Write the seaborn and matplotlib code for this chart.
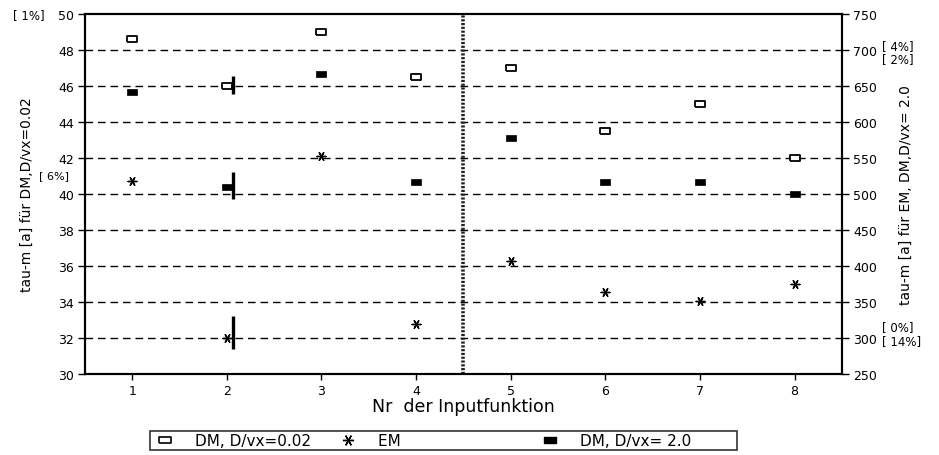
import numpy as np
import pandas as pd
import matplotlib
matplotlib.use("Agg")
import matplotlib.pyplot as plt
import seaborn as sns
from matplotlib.lines import Line2D

# ---- data -------------------------------------------------------------
inputs = [1, 2, 3, 4, 5, 6, 7, 8]
dm_002 = [48.6, 46.0, 49.0, 46.5, 47.0, 43.5, 45.0, 42.0]      # left axis
dm_20 = [642, 510, 667, 517, 578, 517, 517, 500]               # right axis
em = [518, 300, 553, 319, 407, 364, 351, 375]                  # right axis
bar_x = [2.06, 2.06, 2.06]
bar_lo = [639, 493, 285]
bar_hi = [664, 531, 330]
left_ticks = [30, 32, 34, 36, 38, 40, 42, 44, 46, 48, 50]
right_ticks = [250, 300, 350, 400, 450, 500, 550, 600, 650, 700, 750]
divider_x = 4.5
left_notes = ["[ 1%]", "[ 6%]"]
left_note_y = [50.0, 41.05]
right_notes = ["[ 4%]", "[ 2%]", "[ 0%]", "[ 14%]"]
right_note_y = [706, 688, 316, 297]
legend_labels = ["DM, D/vx=0.02", "EM", "DM, D/vx= 2.0"]

sns.set_theme(style="ticks")
plt.rcParams["font.family"] = ["DejaVu Sans"]
plt.rcParams["text.color"] = "black"
plt.rcParams["axes.labelcolor"] = "black"
plt.rcParams["xtick.color"] = "black"
plt.rcParams["ytick.color"] = "black"

fig = plt.figure(figsize=(9.39, 4.56), dpi=100)
ax = fig.add_axes([0.0905, 0.1776, 0.806, 0.7894])
ax2 = ax.twinx()

ax.set_xlim(0.5, 8.5)
ax.set_ylim(30, 50)
ax2.set_ylim(250, 750)

# dashed grid
for t in left_ticks[1:-1]:
    ax.axhline(t, color="black", lw=1.0, ls=(0, (5.5, 3.5)), zorder=1)
ax.axvline(divider_x, color="#222222", lw=2.6, ls=(0, (0.6, 0.45)), zorder=2)

rect = [(-1, -0.55), (1, -0.55), (1, 0.55), (-1, 0.55), (-1, -0.55)]
ast = (6, 2, 90)

df1 = pd.DataFrame({"x": inputs, "y": dm_002})
df2 = pd.DataFrame({"x": inputs, "y": dm_20})
df3 = pd.DataFrame({"x": inputs, "y": em})

sns.scatterplot(data=df1, x="x", y="y", ax=ax, marker=rect, s=52,
                facecolor="white", edgecolor="black", linewidth=1.3, zorder=5)
sns.scatterplot(data=df2, x="x", y="y", ax=ax2, marker=rect, s=60,
                color="black", edgecolor="black", linewidth=0.5, zorder=5)
sns.scatterplot(data=df3, x="x", y="y", ax=ax2, marker=ast, s=40,
                color="black", linewidth=1.0, zorder=5)
ax2.vlines(bar_x, bar_lo, bar_hi, color="black", lw=2.4, zorder=6)

ax.set_xticks(inputs)
ax.set_yticks(left_ticks)
ax2.set_yticks(right_ticks)
ax.set_xticklabels([str(i) for i in inputs], fontsize=9)
ax.set_yticklabels([str(t) for t in left_ticks], fontsize=9)
ax2.set_yticklabels([str(t) for t in right_ticks], fontsize=9)
for a in (ax, ax2):
    a.tick_params(axis="y", direction="out", length=5, width=1.0, colors="black", pad=3)
    a.tick_params(axis="x", direction="out", length=4, width=1.0, colors="black", pad=3)
    for s in a.spines.values():
        s.set_linewidth(1.5)
        s.set_color("black")

ax.set_xlabel("Nr  der Inputfunktion", fontsize=12.5, labelpad=0)
ax.set_ylabel("tau-m [a] für DM,D/vx=0.02", fontsize=10)
ax.yaxis.set_label_coords(-0.068, 0.5)
ax2.set_ylabel("tau-m [a] für EM, DM,D/vx= 2.0", fontsize=10, rotation=90)
ax2.yaxis.set_label_coords(1.075, 0.5)

ax.annotate(left_notes[0], xy=(0, left_note_y[0]), xycoords=("axes fraction", "data"),
            xytext=(-40, 0), textcoords="offset pixels", ha="right", va="center", fontsize=8.5)
ax.annotate(left_notes[1], xy=(0, left_note_y[1]), xycoords=("axes fraction", "data"),
            xytext=(-46, 0), textcoords="offset pixels", ha="left", va="center", fontsize=8)
for txt, yv in zip(right_notes, right_note_y):
    ax2.annotate(txt, xy=(1, yv), xycoords=("axes fraction", "data"),
                 xytext=(40, 0), textcoords="offset pixels",
                 ha="left", va="center", fontsize=8.5)

handles = [
    Line2D([], [], ls="", marker=rect, ms=9, mfc="white", mec="black", mew=1.2),
    Line2D([], [], ls="", marker=ast, ms=8, color="black", mew=1.0),
    Line2D([], [], ls="", marker=rect, ms=9, mfc="black", mec="black"),
]
pad_labels = [legend_labels[0], legend_labels[1] + " " * 23, legend_labels[2] + " " * 9]
leg = fig.legend(handles, pad_labels, loc="lower left", ncol=3,
                 bbox_to_anchor=(0.16, 0.01), frameon=True,
                 fancybox=False, edgecolor="black", fontsize=11,
                 borderpad=0.15, handlelength=1.57, handletextpad=1.18,
                 columnspacing=1.64, borderaxespad=0)
leg.get_frame().set_linewidth(1.2)

fig.savefig("out.png", dpi=100)
